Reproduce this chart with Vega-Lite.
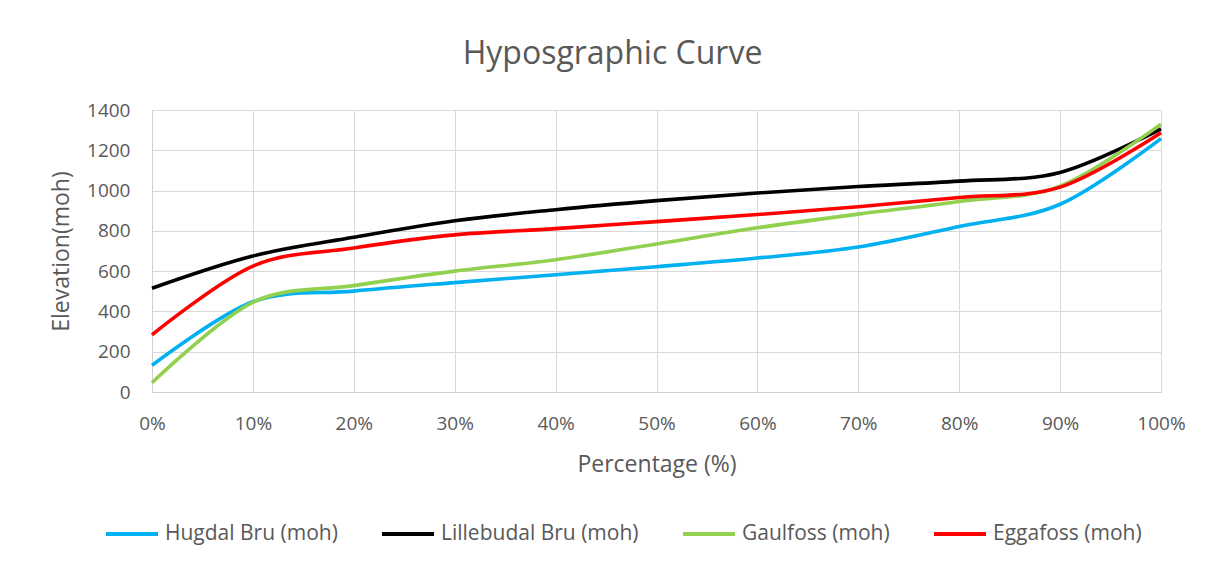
{
  "$schema": "https://vega.github.io/schema/vega-lite/v6.json",
  "width": 1009,
  "height": 282,
  "autosize": {"type": "none"},
  "padding": {"left": 152, "top": 110, "right": 47, "bottom": 173},
  "background": "white",
  "title": {
    "text": "Hyposgraphic Curve",
    "font": "Open Sans",
    "fontSize": 32,
    "fontWeight": "normal",
    "color": "#595959",
    "anchor": "middle",
    "dx": -44,
    "offset": 30
  },
  "data": {
    "values": [
      {"series": "Hugdal Bru (moh)", "pct": 0.0, "elev": 132},
      {"series": "Hugdal Bru (moh)", "pct": 0.1, "elev": 448},
      {"series": "Hugdal Bru (moh)", "pct": 0.2, "elev": 501},
      {"series": "Hugdal Bru (moh)", "pct": 0.3, "elev": 543},
      {"series": "Hugdal Bru (moh)", "pct": 0.4, "elev": 582},
      {"series": "Hugdal Bru (moh)", "pct": 0.5, "elev": 622},
      {"series": "Hugdal Bru (moh)", "pct": 0.6, "elev": 665},
      {"series": "Hugdal Bru (moh)", "pct": 0.7, "elev": 720},
      {"series": "Hugdal Bru (moh)", "pct": 0.8, "elev": 822},
      {"series": "Hugdal Bru (moh)", "pct": 0.9, "elev": 932},
      {"series": "Hugdal Bru (moh)", "pct": 1.0, "elev": 1258},
      {"series": "Lillebudal Bru (moh)", "pct": 0.0, "elev": 515},
      {"series": "Lillebudal Bru (moh)", "pct": 0.1, "elev": 675},
      {"series": "Lillebudal Bru (moh)", "pct": 0.2, "elev": 768},
      {"series": "Lillebudal Bru (moh)", "pct": 0.3, "elev": 850},
      {"series": "Lillebudal Bru (moh)", "pct": 0.4, "elev": 905},
      {"series": "Lillebudal Bru (moh)", "pct": 0.5, "elev": 950},
      {"series": "Lillebudal Bru (moh)", "pct": 0.6, "elev": 988},
      {"series": "Lillebudal Bru (moh)", "pct": 0.7, "elev": 1020},
      {"series": "Lillebudal Bru (moh)", "pct": 0.8, "elev": 1047},
      {"series": "Lillebudal Bru (moh)", "pct": 0.9, "elev": 1090},
      {"series": "Lillebudal Bru (moh)", "pct": 1.0, "elev": 1306},
      {"series": "Gaulfoss (moh)", "pct": 0.0, "elev": 46},
      {"series": "Gaulfoss (moh)", "pct": 0.1, "elev": 445},
      {"series": "Gaulfoss (moh)", "pct": 0.2, "elev": 528},
      {"series": "Gaulfoss (moh)", "pct": 0.3, "elev": 600},
      {"series": "Gaulfoss (moh)", "pct": 0.4, "elev": 657},
      {"series": "Gaulfoss (moh)", "pct": 0.5, "elev": 735},
      {"series": "Gaulfoss (moh)", "pct": 0.6, "elev": 815},
      {"series": "Gaulfoss (moh)", "pct": 0.7, "elev": 883},
      {"series": "Gaulfoss (moh)", "pct": 0.8, "elev": 946},
      {"series": "Gaulfoss (moh)", "pct": 0.9, "elev": 1022},
      {"series": "Gaulfoss (moh)", "pct": 1.0, "elev": 1330},
      {"series": "Eggafoss (moh)", "pct": 0.0, "elev": 284},
      {"series": "Eggafoss (moh)", "pct": 0.1, "elev": 625},
      {"series": "Eggafoss (moh)", "pct": 0.2, "elev": 715},
      {"series": "Eggafoss (moh)", "pct": 0.3, "elev": 780},
      {"series": "Eggafoss (moh)", "pct": 0.4, "elev": 811},
      {"series": "Eggafoss (moh)", "pct": 0.5, "elev": 846},
      {"series": "Eggafoss (moh)", "pct": 0.6, "elev": 881},
      {"series": "Eggafoss (moh)", "pct": 0.7, "elev": 920},
      {"series": "Eggafoss (moh)", "pct": 0.8, "elev": 966},
      {"series": "Eggafoss (moh)", "pct": 0.9, "elev": 1017},
      {"series": "Eggafoss (moh)", "pct": 1.0, "elev": 1287}
    ]
  },
  "mark": {"type": "line", "interpolate": "cardinal", "strokeWidth": 3.6},
  "encoding": {
    "x": {
      "field": "pct",
      "type": "quantitative",
      "scale": {"domain": [0, 1], "nice": false},
      "axis": {
        "title": "Percentage (%)",
        "format": ".0%",
        "values": [0, 0.1, 0.2, 0.3, 0.4, 0.5, 0.6, 0.7, 0.8, 0.9, 1],
        "labelFlush": false,
        "labelPadding": 22,
        "titlePadding": 20
      }
    },
    "y": {
      "field": "elev",
      "type": "quantitative",
      "scale": {"domain": [0, 1400], "nice": false},
      "axis": {
        "title": "Elevation(moh)",
        "format": "d",
        "values": [0, 200, 400, 600, 800, 1000, 1200, 1400],
        "labelPadding": 22,
        "titlePadding": 13
      }
    },
    "color": {
      "field": "series",
      "type": "nominal",
      "scale": {
        "domain": ["Hugdal Bru (moh)", "Lillebudal Bru (moh)", "Gaulfoss (moh)", "Eggafoss (moh)"],
        "range": ["#00B0F0", "#000000", "#92D050", "#FF0000"]
      },
      "legend": {
        "title": null,
        "orient": "none",
        "legendX": -48,
        "legendY": 396,
        "direction": "horizontal",
        "columns": 4,
        "columnPadding": 36,
        "symbolType": "stroke",
        "symbolSize": 2704,
        "symbolStrokeWidth": 4,
        "labelOffset": 5,
        "labelFont": "Open Sans",
        "labelFontSize": 21,
        "labelColor": "#595959",
        "labelLimit": 400
      }
    }
  },
  "config": {
    "view": {"stroke": null},
    "axis": {
      "labelFont": "Open Sans",
      "labelFontSize": 19,
      "labelColor": "#595959",
      "titleFont": "Open Sans",
      "titleFontSize": 23,
      "titleFontWeight": "normal",
      "titleColor": "#595959",
      "gridColor": "#d9d9d9",
      "gridWidth": 1,
      "domainColor": "#d0d0d0",
      "domainWidth": 1,
      "ticks": false
    }
  }
}
